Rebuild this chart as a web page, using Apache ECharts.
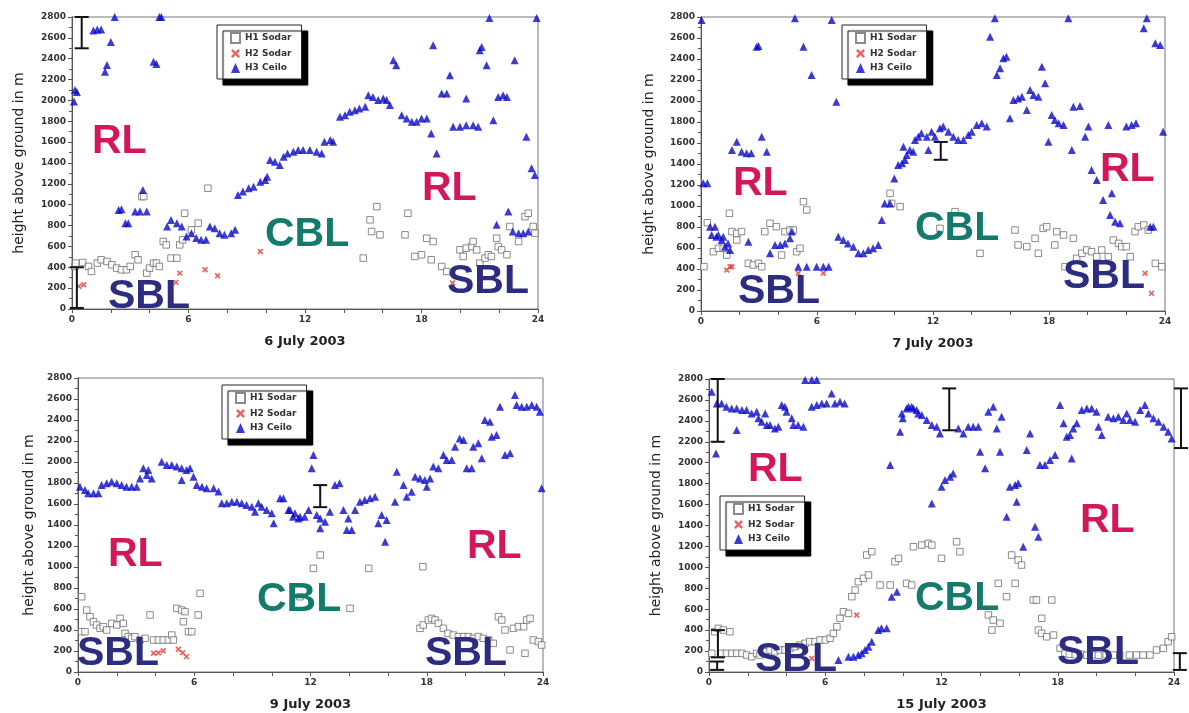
<!DOCTYPE html>
<html>
<head>
<meta charset="utf-8">
<script src="https://cdn.jsdelivr.net/npm/echarts@6/dist/echarts.min.js"></script>
<style>
  html, body { margin: 0; padding: 0; background: #fff; }
  #chart { width: 1189px; height: 713px; }
</style>
</head>
<body>
<div id="chart"></div>
<script>
// dates of the four panels
var days = ['6 July 2003', '7 July 2003', '9 July 2003', '15 July 2003'];

// [hour, height in m]
var h1Sodar6 = [[0.15,408],[0.2,440],[0.55,446],[0.85,408],[1.0,360],[1.3,440],[1.5,472],[1.8,456],[2.05,424],[2.3,392],[2.55,376],[2.8,376],[3.0,408],[3.25,520],[3.4,472],[3.6,1078],[3.7,1078],[3.85,344],[4.0,392],[4.2,440],[4.35,440],[4.5,408],[4.7,647],[4.85,615],[5.1,488],[5.4,488],[5.55,615],[5.7,663],[5.8,918],[6.15,759],[6.5,823],[7.0,1158],
  [15.0,488],[15.35,855],[15.43,743],[15.7,982],[15.86,711],[17.15,711],[17.3,918],[17.66,504],[18.0,520],[18.27,679],[18.5,472],[18.6,647],[19.04,408],[19.3,360],[19.98,567],[20.15,504],[20.3,583],[20.58,599],[20.66,647],[20.84,567],[21.0,440],[21.27,488],[21.44,520],[21.6,504],[21.87,679],[21.95,599],[22.13,567],[22.4,520],[22.55,791],[23.0,647],[23.33,886],[23.5,918],[23.75,791],[23.84,727]];
var h2Sodar6 = [[0.35,217],[0.6,233],[5.35,255],[5.55,344],[6.85,376],[7.5,319],[9.7,552],[19.6,249]];
var h3Ceilo6 = [[0.1,1990],[0.15,2100],[0.25,2080],[1.1,2670],[1.3,2680],[1.5,2680],[1.7,2275],[1.8,2340],[2.0,2560],[2.2,2800],
  [2.4,950],[2.55,957],[2.75,823],[2.9,823],[3.25,934],[3.5,934],[3.65,1141],[3.85,934],[4.2,2370],[4.35,2350],[4.5,2800],[4.6,2800],
  [4.9,790],[5.1,854],[5.4,822],[5.65,790],[5.9,695],[6.15,727],[6.4,680],[6.65,663],[6.9,663],[7.1,790],[7.35,775],[7.6,727],[7.85,711],[8.2,727],[8.4,759],
  [8.55,1094],[8.8,1126],[9.1,1158],[9.35,1173],[9.7,1221],[9.95,1237],[10.05,1269],[10.2,1428],[10.45,1413],[10.7,1381],[10.9,1460],[11.1,1492],[11.4,1508],[11.65,1524],[11.9,1524],[12.25,1524],[12.6,1508],[12.86,1492],
  [13.0,1604],[13.3,1620],[13.45,1604],[13.8,1843],[14.06,1859],[14.3,1891],[14.57,1907],[14.8,1923],[15.1,1939],[15.26,2050],[15.5,2034],[15.77,2003],[16.03,2018],[16.2,2003],[16.37,1955],[16.55,2385],[16.7,2337],
  [16.98,1859],[17.24,1827],[17.5,1795],[17.75,1795],[18.0,1827],[18.27,1827],[18.5,1684],[18.6,2529],[18.78,1492],[19.04,2066],[19.3,2066],[19.46,2242],[19.63,1747],[19.98,1747],[20.3,2018],[20.3,1763],[20.66,1763],[20.92,1747],[21.0,2481],[21.1,2513],[21.35,2337],[21.5,2790],[21.7,1811],[21.87,807],[21.95,2034],[22.2,2050],[22.4,2034],[22.47,934],[22.7,743],[22.8,2385],[23.0,727],[23.24,727],[23.4,1652],[23.5,743],[23.67,1349],[23.84,1285],[23.93,2790]];

var h1Sodar7 = [[0.15,422],[0.33,841],[0.64,565],[0.9,597],[1.15,597],[1.33,533],[1.47,930],[1.6,756],[1.85,740],[1.85,676],[2.1,756],[2.45,454],[2.7,438],[2.97,454],[3.14,422],[3.3,756],[3.57,835],[3.9,803],[4.17,533],[4.34,756],[4.6,771],[4.78,771],[4.95,565],[5.12,597],[5.3,1041],[5.47,962],[9.78,1121],[9.86,1025],[10.3,994],[12.36,787],[13.14,946],[14.43,549],
  [16.24,771],[16.4,629],[16.85,613],[17.28,692],[17.45,549],[17.7,787],[17.88,803],[18.3,629],[18.4,756],[18.75,724],[18.83,422],[19.26,692],[19.43,502],[19.7,549],[19.95,581],[20.2,565],[20.47,517],[20.73,581],[21.07,517],[21.33,676],[21.6,644],[21.76,613],[22.0,613],[22.2,517],[22.45,756],[22.62,803],[22.9,819],[23.14,771],[23.5,454],[23.83,422]];
var h2Sodar7 = [[1.33,390],[1.5,422],[1.6,422],[5.03,359],[6.33,359],[22.97,359],[23.3,168]];
var h3Ceilo7 = [[0.03,2771],[0.12,1216],[0.33,1216],[0.47,803],[0.55,724],[0.72,803],[0.8,708],[0.9,724],[1.07,676],[1.15,708],[1.24,613],[1.4,644],[1.5,581],[1.6,1533],[1.85,1613],[2.1,1517],[2.36,1502],[2.45,660],[2.6,1502],[2.88,2517],[2.97,2524],[3.14,1660],[3.4,1517],[3.57,549],[3.83,629],[4.1,629],[4.34,644],[4.6,692],[4.7,756],[4.86,2787],[5.03,422],[5.3,2517],[5.47,422],[5.72,2248],[5.98,422],[6.33,422],[6.6,422],[6.76,2771],[7.0,1994],
  [7.1,708],[7.36,676],[7.6,644],[7.88,613],[8.14,549],[8.4,549],[8.65,581],[8.9,597],[9.17,629],[9.35,867],[9.5,1025],[9.78,1025],[10.0,1263],[10.2,1390],[10.4,1406],[10.47,1565],[10.55,1438],[10.64,1486],[10.8,1533],[10.98,1517],[11.07,1629],[11.24,1660],[11.4,1692],[11.68,1660],[11.76,1533],[11.93,1708],[12.1,1660],[12.36,1740],[12.53,1756],[12.8,1708],[13.05,1660],[13.3,1629],[13.57,1629],[13.83,1676],[14.0,1708],[14.26,1771],[14.52,1787],[14.78,1756],
  [14.95,2613],[15.2,2787],[15.3,2248],[15.47,2311],[15.64,2406],[15.8,2422],[15.98,1835],[16.16,2010],[16.4,2025],[16.6,2041],[16.85,1914],[17.02,2105],[17.2,2057],[17.45,2041],[17.63,2327],[17.8,2168],[17.97,1613],[18.14,1867],[18.3,1819],[18.5,1787],[18.75,1771],[19.0,2787],[19.18,1533],[19.26,1946],[19.6,1952],[19.87,1660],[20.04,1756],[20.2,1343],[20.47,1248],[20.8,1057],[21.07,1771],[21.16,914],[21.25,1121],[21.42,851],[21.67,835],[22.0,1756],[22.27,1771],[22.5,1787],[22.9,2692],[23.06,2787],[23.23,803],[23.4,803],[23.5,2549],[23.75,2533],[23.9,1708]];

var h1Sodar9 = [[0.19,717],[0.19,384],[0.36,384],[0.45,590],[0.62,527],[0.8,479],[0.96,448],[1.14,416],[1.3,432],[1.48,400],[1.74,463],[2.0,448],[2.17,511],[2.34,463],[2.43,368],[2.6,337],[2.77,321],[2.94,337],[3.2,305],[3.46,321],[3.72,543],[3.9,305],[4.15,305],[4.4,305],[4.66,305],[4.84,352],[4.92,305],[5.1,606],[5.35,590],[5.44,479],[5.52,575],[5.7,384],[5.87,384],[6.2,543],[6.3,749],
  [11.46,717],[12.15,987],[12.5,1114],[14.04,606],[15.0,987],[17.65,416],[17.8,1003],[17.82,448],[18.08,495],[18.25,511],[18.43,495],[18.6,463],[18.86,416],[19.1,368],[19.37,352],[19.63,337],[19.9,337],[20.15,337],[20.4,321],[20.66,337],[20.92,321],[21.2,305],[21.43,273],[21.7,527],[21.87,495],[22.04,400],[22.3,210],[22.47,416],[22.73,432],[23.0,432],[23.07,178],[23.16,495],[23.33,511],[23.5,305],[23.76,289],[23.93,257]];
var h2Sodar9 = [[3.9,178],[4.15,184],[4.4,203],[5.18,216],[5.4,184],[5.6,146]];
var h3Ceilo9 = [[0.1,1765],[0.36,1733],[0.53,1702],[0.8,1702],[1.05,1702],[1.22,1781],[1.48,1797],[1.74,1813],[2.0,1797],[2.25,1781],[2.5,1765],[2.77,1765],[3.03,1765],[3.2,1844],[3.37,1940],[3.55,1876],[3.63,1924],[3.8,1844],[4.32,2003],[4.58,1971],[4.84,1971],[5.1,1956],[5.35,1940],[5.35,1829],[5.6,1924],[5.78,1940],[5.96,1860],[6.13,1781],[6.4,1765],[6.64,1749],[7.0,1749],[7.25,1718],
  [7.42,1606],[7.68,1606],[7.94,1622],[8.2,1622],[8.45,1606],[8.7,1590],[8.97,1575],[9.14,1527],[9.31,1606],[9.48,1575],[9.74,1543],[10.0,1511],[10.1,1416],[10.43,1654],[10.6,1654],[10.86,1543],[10.94,1543],[11.1,1479],[11.2,1511],[11.38,1463],[11.46,1479],[11.7,1479],[11.9,1543],[12.06,1940],[12.15,2067],[12.32,1495],[12.5,1463],[12.5,1368],[12.75,1432],[13.0,1527],[13.26,1781],[13.5,1797],[13.7,1543],[13.87,1352],[13.95,1463],[14.13,1352],[14.3,1543],[14.55,1622],[14.8,1638],[15.07,1654],[15.33,1670],
  [15.5,1416],[15.67,1495],[15.85,1241],[15.93,1448],[16.36,1622],[16.45,1908],[16.8,1781],[16.96,1670],[17.22,1717],[17.4,1860],[17.65,1844],[17.9,1829],[18.0,1765],[18.17,1844],[18.34,1956],[18.6,1940],[18.86,2067],[19.03,2019],[19.29,2019],[19.46,2146],[19.7,2225],[19.9,2210],[20.06,1940],[20.32,1940],[20.4,2146],[20.66,2178],[20.84,2035],[21.0,2400],[21.26,2384],[21.35,2241],[21.6,2257],[21.78,2527],[22.04,2067],[22.3,2083],[22.55,2638],[22.64,2543],[22.9,2527],[23.16,2527],[23.42,2543],[23.67,2527],[23.84,2479],[23.93,1749]];

var h1Sodar15 = [[0.14,178],[0.3,385],[0.48,417],[0.65,178],[0.74,401],[0.9,178],[1.08,385],[1.17,178],[1.43,178],[1.7,178],[1.94,162],[2.2,146],[2.46,178],[2.63,162],[2.9,194],[3.15,210],[3.4,194],[3.67,210],[3.92,210],[4.18,226],[4.44,242],[4.7,258],[4.96,274],[5.2,290],[5.47,290],[5.73,306],[6.0,306],[6.25,322],[6.42,369],[6.6,433],[6.76,513],[6.94,576],[7.2,560],[7.37,720],[7.54,783],[7.71,863],[7.97,895],[8.14,1118],[8.23,927],[8.4,1150],[8.83,831],[9.35,831],[9.6,1054],[9.78,1086],[10.2,847],[10.46,831],[10.55,1197],[10.98,1213],[11.32,1229],[11.5,1213],[12.0,1086],[12.78,1245],[12.95,1150],
  [14.42,545],[14.6,401],[14.67,497],[14.93,847],[15.02,465],[15.36,720],[15.62,1118],[15.8,847],[15.96,1070],[16.13,1022],[16.74,688],[16.9,688],[17.0,401],[17.17,513],[17.17,369],[17.43,337],[17.69,688],[17.78,353],[18.12,226],[18.37,178],[18.6,170],[18.9,165],[19.2,170],[19.5,160],[19.8,165],[20.1,160],[20.5,165],[20.87,162],[21.2,162],[21.7,162],[22.07,162],[22.4,162],[22.76,162],[23.1,210],[23.45,226],[23.7,290],[23.88,337]];
var h2Sodar15 = [[5.3,130],[7.62,545]];
var h3Ceilo15 = [[0.14,2678],[0.36,2089],[0.4,2567],[0.65,2567],[0.9,2535],[1.17,2519],[1.43,2519],[1.43,2312],[1.7,2503],[1.94,2503],[2.2,2471],[2.46,2487],[2.55,2424],[2.72,2392],[2.9,2471],[2.98,2360],[3.15,2360],[3.4,2328],[3.58,2344],[3.75,2551],[3.92,2535],[4.0,2487],[4.27,2424],[4.35,2360],[4.6,2360],[4.87,2344],[4.96,2790],[5.3,2790],[5.56,2790],[5.3,2535],[5.56,2551],[5.82,2567],[6.07,2567],[6.33,2662],[6.5,2567],[6.76,2583],[7.0,2567],
  [6.68,115],[7.2,146],[7.45,146],[7.7,162],[7.88,178],[8.05,210],[8.23,242],[8.4,290],[8.74,401],[8.9,417],[9.17,417],[9.43,720],[9.7,767],[9.35,1978],[9.86,2296],[9.95,2471],[10.0,2424],[10.2,2519],[10.3,2535],[10.46,2535],[10.55,2519],[10.72,2503],[10.8,2471],[10.98,2455],[11.24,2408],[11.5,2360],[11.5,1611],[11.75,2344],[11.92,2280],[12.0,1771],[12.18,1834],[12.44,1866],[12.6,1898],
  [12.87,2328],[13.13,2280],[13.38,2344],[13.64,2344],[13.9,2344],[13.99,2105],[14.25,1946],[14.42,2487],[14.67,2535],[14.85,2328],[15.02,2105],[15.1,2440],[15.36,1484],[15.53,1771],[15.8,1787],[15.88,1627],[15.96,1803],[16.22,1197],[16.4,2121],[16.57,2280],[16.83,1389],[17.0,1293],[17.08,1978],[17.34,1978],[17.6,2026],[17.86,2073],[18.12,2551],[18.3,2376],[18.46,2249],[18.63,2264],[18.72,2041],[18.8,2328],[18.98,2376],
  [19.24,2503],[19.5,2519],[19.75,2519],[20.0,2487],[20.1,2344],[20.27,2264],[20.6,2440],[20.87,2424],[21.13,2440],[21.38,2408],[21.56,2471],[21.73,2408],[21.99,2392],[22.25,2503],[22.5,2551],[22.68,2471],[22.94,2424],[23.2,2392],[23.46,2344],[23.7,2296],[23.88,2232]];

// uncertainty bars: [hour, low, high]
var errBars6 = [[0.5,2500,2800],[0.25,10,400]];
var errBars7 = [[12.4,1440,1610]];
var errBars9 = [[12.5,1570,1780]];
var errBars15 = [[0.45,2200,2800],[0.46,140,400],[0.42,20,100],[12.4,2310,2710],[24.36,2140,2710],[24.3,20,180]];

var sodar1 = [h1Sodar6, h1Sodar7, h1Sodar9, h1Sodar15];
var sodar2 = [h2Sodar6, h2Sodar7, h2Sodar9, h2Sodar15];
var ceilo = [h3Ceilo6, h3Ceilo7, h3Ceilo9, h3Ceilo15];
var errBars = [errBars6, errBars7, errBars9, errBars15];

var seriesNames = ['H1 Sodar', 'H2 Sodar', 'H3 Ceilo'];

// layer labels [text, x, y, kind]
var zoneLabels = [
  ['RL', 92, 142, 'RL'], ['SBL', 108, 297, 'SBL'], ['CBL', 265, 235, 'CBL'], ['RL', 422, 189, 'RL'], ['SBL', 447, 282, 'SBL'],
  ['RL', 733, 184, 'RL'], ['SBL', 738, 292, 'SBL'], ['CBL', 915, 229, 'CBL'], ['RL', 1100, 170, 'RL'], ['SBL', 1063, 277, 'SBL'],
  ['RL', 108, 555, 'RL'], ['SBL', 77, 654, 'SBL'], ['CBL', 257, 600, 'CBL'], ['RL', 467, 547, 'RL'], ['SBL', 425, 654, 'SBL'],
  ['RL', 748, 470, 'RL'], ['SBL', 755, 660, 'SBL'], ['CBL', 915, 599, 'CBL'], ['RL', 1080, 521, 'RL'], ['SBL', 1057, 653, 'SBL']
];
var zoneColors = { RL: '#d2175a', CBL: '#137a6c', SBL: '#2c2c80' };

var grids = [
  { left: 72, top: 17, width: 466, height: 292 },
  { left: 701, top: 17, width: 464, height: 294 },
  { left: 78, top: 378, width: 465, height: 294 },
  { left: 709, top: 379, width: 465, height: 293 }
];
var legendPos = [[217, 25], [842, 25], [222, 385], [720, 496]];
var yNameGap = [46, 45, 42, 46];

var crossPath = 'path://M2,0L5,3L8,0L10,2L7,5L10,8L8,10L5,7L2,10L0,8L3,5L0,2Z';

function renderBar(params, api) {
  var lo = api.coord([api.value(0), api.value(1)]);
  var hi = api.coord([api.value(0), api.value(2)]);
  var w = 7;
  var st = { stroke: '#111', lineWidth: 2 };
  return {
    type: 'group',
    children: [
      { type: 'line', shape: { x1: lo[0], y1: lo[1], x2: hi[0], y2: hi[1] }, style: st },
      { type: 'line', shape: { x1: lo[0] - w, y1: lo[1], x2: lo[0] + w, y2: lo[1] }, style: st },
      { type: 'line', shape: { x1: hi[0] - w, y1: hi[1], x2: hi[0] + w, y2: hi[1] }, style: st }
    ]
  };
}

var option = {
  backgroundColor: '#fff',
  animation: false,
  grid: [], xAxis: [], yAxis: [], series: [], legend: [], graphic: []
};

for (var i = 0; i < 4; i++) {
  option.grid.push(Object.assign({ show: true, borderColor: '#777', borderWidth: 1, backgroundColor: '#fff' }, grids[i]));
  option.xAxis.push({
    type: 'value', gridIndex: i, min: 0, max: 24, interval: 6,
    name: days[i], nameLocation: 'middle', nameGap: 26,
    nameTextStyle: { fontFamily: 'DejaVu Sans', fontWeight: 'bold', fontSize: 13, color: '#222' },
    axisLine: { lineStyle: { color: '#555' } },
    axisTick: { length: 4, lineStyle: { color: '#555' } },
    minorTick: { show: true, splitNumber: 3, length: 4, lineStyle: { color: '#555' } },
    axisLabel: { margin: 6, fontFamily: 'DejaVu Sans', fontWeight: 'bold', fontSize: 9, color: '#333' },
    splitLine: { show: false }
  });
  option.yAxis.push({
    type: 'value', gridIndex: i, min: 0, max: 2800, interval: 200,
    name: 'height above ground in m', nameLocation: 'middle', nameGap: yNameGap[i], nameRotate: 90,
    nameTextStyle: { fontFamily: 'DejaVu Sans', fontSize: 14, color: '#222' },
    axisLine: { lineStyle: { color: '#555' } },
    axisTick: { length: 4, lineStyle: { color: '#555' } },
    minorTick: { show: true, splitNumber: 2, length: 3, lineStyle: { color: '#555' } },
    axisLabel: {
      margin: 6, fontFamily: 'DejaVu Sans', fontWeight: 'bold', fontSize: 9, color: '#333',
      formatter: function (v) { return String(v); }
    },
    splitLine: { show: false }
  });
  option.series.push({
    name: seriesNames[0], type: 'scatter', xAxisIndex: i, yAxisIndex: i,
    symbol: 'rect', symbolSize: 6.5, data: sodar1[i],
    itemStyle: { color: '#fff', borderColor: '#6e6e6e', borderWidth: 1 }
  });
  option.series.push({
    name: seriesNames[1], type: 'scatter', xAxisIndex: i, yAxisIndex: i,
    symbol: crossPath, symbolSize: 6, data: sodar2[i],
    itemStyle: { color: '#e2403c' }
  });
  option.series.push({
    name: seriesNames[2], type: 'scatter', xAxisIndex: i, yAxisIndex: i,
    symbol: 'triangle', symbolSize: 8, data: ceilo[i],
    itemStyle: { color: '#0a0ac8' }
  });
  option.series.push({
    type: 'custom', xAxisIndex: i, yAxisIndex: i, clip: false, z: 5,
    renderItem: renderBar, encode: { x: 0, y: [1, 2] }, data: errBars[i]
  });
  option.legend.push({
    data: seriesNames, orient: 'vertical', left: legendPos[i][0], top: legendPos[i][1],
    padding: [7, 10, 6, 13], itemGap: 5, itemWidth: 9, itemHeight: 10, itemTextGap: 14,
    backgroundColor: '#fff', borderColor: '#222', borderWidth: 1,
    shadowColor: '#000', shadowBlur: 1, shadowOffsetX: 6, shadowOffsetY: 6,
    textStyle: { fontFamily: 'DejaVu Sans', fontWeight: 'bold', fontSize: 9, color: '#333' },
    selectedMode: false
  });
}

zoneLabels.forEach(function (z) {
  option.graphic.push({
    type: 'text', x: z[1], y: z[2], z: 10,
    style: {
      text: z[0], fill: zoneColors[z[3]], verticalAlign: 'middle',
      font: 'bold 41px "Liberation Sans", Arial, sans-serif'
    }
  });
});

var myChart = echarts.init(document.getElementById('chart'));
myChart.setOption(option);
</script>
</body>
</html>
